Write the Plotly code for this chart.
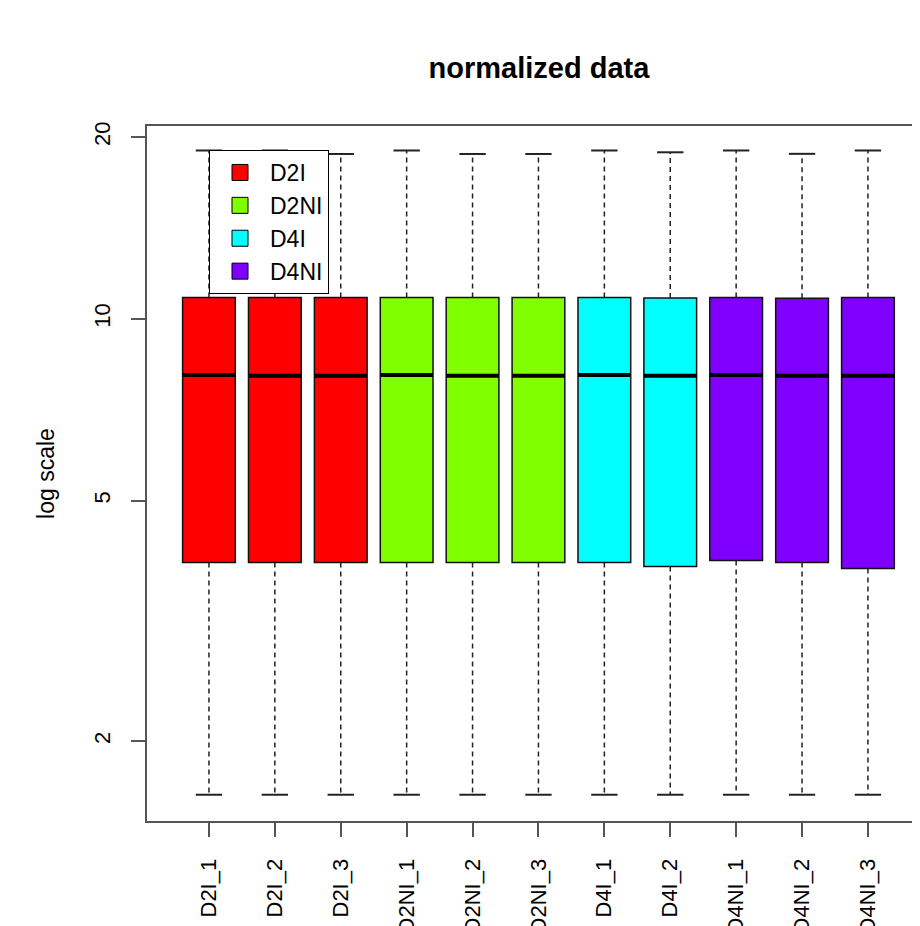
import plotly.graph_objects as go

samples = ["D2I_1", "D2I_2", "D2I_3", "D2NI_1", "D2NI_2", "D2NI_3",
           "D4I_1", "D4I_2", "D4NI_1", "D4NI_2", "D4NI_3"]
groups = ["D2I", "D2I", "D2I", "D2NI", "D2NI", "D2NI",
          "D4I", "D4I", "D4NI", "D4NI", "D4NI"]
group_names = ["D2I", "D2NI", "D4I", "D4NI"]
group_colors = ["#FF0000", "#80FF00", "#00FFFF", "#8000FF"]

upper_whisker = [19.0, 19.0, 18.75, 19.0, 18.75, 18.75, 19.0, 18.87, 19.0, 18.76, 19.0]
q3_values = [10.85, 10.85, 10.85, 10.85, 10.85, 10.85, 10.85, 10.83, 10.85, 10.82, 10.85]
medians = [8.07, 8.05, 8.05, 8.07, 8.05, 8.05, 8.07, 8.05, 8.07, 8.05, 8.05]
q1_values = [3.95, 3.95, 3.95, 3.95, 3.95, 3.95, 3.95, 3.89, 3.98, 3.95, 3.86]
lower_whisker = [1.63, 1.63, 1.63, 1.63, 1.63, 1.63, 1.63, 1.63, 1.63, 1.63, 1.63]

y_tick_values = [2, 5, 10, 20]

FONT = "Liberation Sans, Arial, sans-serif"
AXIS_GRAY = "#555555"
positions = list(range(1, len(samples) + 1))
box_w = 0.8
cap_half = 0.2

# the page body has an 8px margin; the figure is sized to fit the window
W, H = 912, 918
L, T, B = 139, 118, 105

fig = go.Figure()

# dashed whiskers (under boxes)
wx, wy = [], []
for i, p in enumerate(positions):
    wx += [p, p, None, p, p, None]
    wy += [q3_values[i], upper_whisker[i], None, q1_values[i], lower_whisker[i], None]
fig.add_trace(go.Scatter(x=wx, y=wy, mode="lines", showlegend=False, hoverinfo="skip",
                         line=dict(color="#222222", width=1.5, dash="5px,4px")))

# staples
cx, cy = [], []
for i, p in enumerate(positions):
    cx += [p - cap_half, p + cap_half, None, p - cap_half, p + cap_half, None]
    cy += [upper_whisker[i], upper_whisker[i], None, lower_whisker[i], lower_whisker[i], None]
fig.add_trace(go.Scatter(x=cx, y=cy, mode="lines", showlegend=False, hoverinfo="skip",
                         line=dict(color="#222222", width=2)))

# boxes per group
for g, col in zip(group_names, group_colors):
    idx = [i for i, gg in enumerate(groups) if gg == g]
    fig.add_trace(go.Box(
        x=[positions[i] for i in idx],
        q1=[q1_values[i] for i in idx],
        median=[medians[i] for i in idx],
        q3=[q3_values[i] for i in idx],
        lowerfence=[q1_values[i] for i in idx],
        upperfence=[q3_values[i] for i in idx],
        width=box_w, whiskerwidth=0,
        fillcolor=col, line=dict(color="#111111", width=1.5),
        showlegend=False, name=g,
    ))

# thick median lines
mx, my = [], []
for i, p in enumerate(positions):
    mx += [p - box_w / 2, p + box_w / 2, None]
    my += [medians[i], medians[i], None]
fig.add_trace(go.Scatter(x=mx, y=my, mode="lines", showlegend=False, hoverinfo="skip",
                         line=dict(color="black", width=4)))

# legend entries
for k, (g, col) in enumerate(zip(group_names, group_colors)):
    fig.add_trace(go.Scatter(x=[None], y=[None], mode="markers", name=g,
                             legendgroup=g,
                             marker=dict(symbol="square", size=16, color=col,
                                         line=dict(color="black", width=1))))

plot_w = W - L
plot_h = H - T - B

fig.update_layout(
    width=W, height=H,
    margin=dict(l=L, r=0, t=T, b=B, autoexpand=False),
    paper_bgcolor="white", plot_bgcolor="white",
    boxmode="overlay",
    font=dict(family=FONT, size=22, color="black"),
    title=dict(text="<b>normalized data</b>", font=dict(family=FONT, size=29, color="black"),
               x=531 / W, xref="container", xanchor="center",
               y=1 - 60 / H, yref="container", yanchor="middle"),
    legend=dict(x=(209 - 8 - L) / plot_w, y=(H - B - (150 - 8)) / plot_h,
                xanchor="left", yanchor="top",
                bgcolor="white", bordercolor="black", borderwidth=1,
                font=dict(family=FONT, size=23), tracegroupgap=0, itemwidth=50),
    xaxis=dict(range=[0.06, 0.06 + plot_w / 65.9], tickmode="array", tickvals=positions,
               ticktext=samples, tickangle=-90, ticks="outside", ticklen=14,
               tickcolor=AXIS_GRAY, tickwidth=2, showgrid=False, zeroline=False,
               showline=True, linecolor=AXIS_GRAY, linewidth=2, mirror=True,
               ticklabelstandoff=13, automargin=False),
    yaxis=dict(type="log", range=[0.1687, 1.3193], tickmode="array",
               tickvals=y_tick_values, ticktext=[str(v) for v in y_tick_values],
               tickangle=-90, ticks="outside", ticklen=14, tickcolor=AXIS_GRAY, tickwidth=2,
               showgrid=False, zeroline=False, showline=True, linecolor=AXIS_GRAY,
               linewidth=2, mirror=False, ticklabelstandoff=12, automargin=False,
               title=dict(text="log scale", standoff=29, font=dict(size=23))),
)

fig.write_html("out.html")
